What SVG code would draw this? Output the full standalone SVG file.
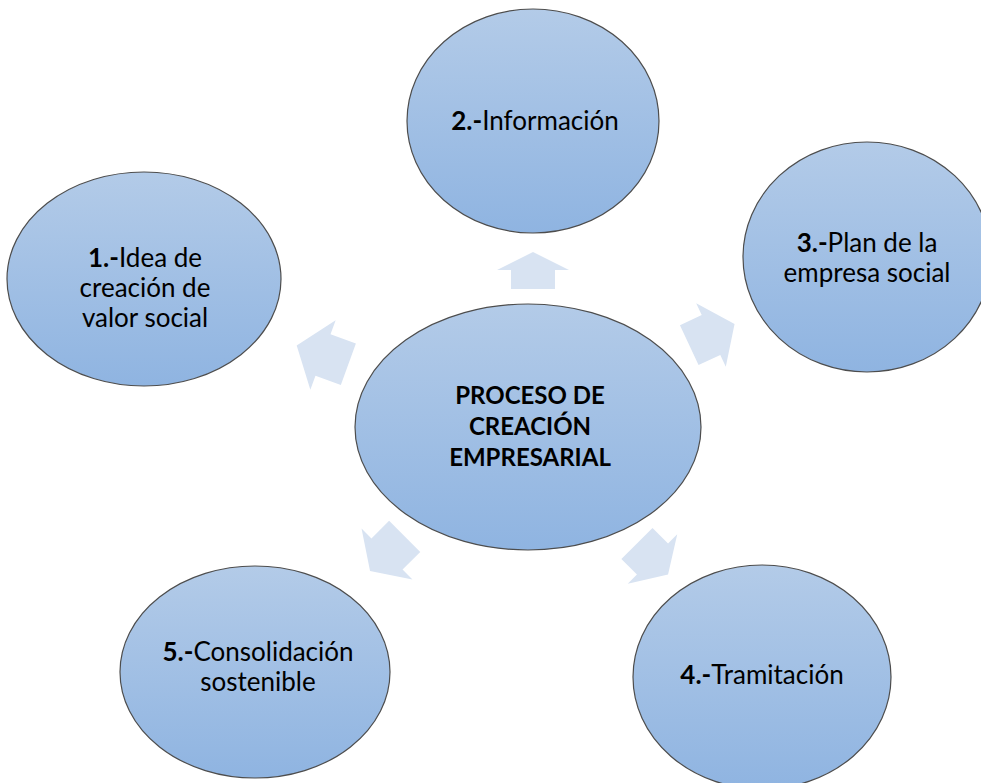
<svg xmlns="http://www.w3.org/2000/svg" width="981" height="783" viewBox="0 0 981 783">
  <defs>
    <linearGradient id="gFill" x1="0" y1="0" x2="0" y2="1">
      <stop offset="0" stop-color="#b3cbe8"/>
      <stop offset="1" stop-color="#8fb4e1"/>
    </linearGradient>
  </defs>
  <style>
    .node { fill: url(#gFill); stroke: #4d4d4d; stroke-width: 1.2; }
    .arrow { fill: #d8e3f2; stroke: none; }
    text { font-family: Lato, "Liberation Sans", sans-serif; font-size: 26px; fill: #000; text-anchor: middle; }
    .b { font-weight: bold; }
    .c { font-weight: bold; font-size: 24px; }
  </style>
  <rect width="981" height="783" fill="#ffffff"/>
  <g id="connectors">
    <path class="arrow" transform="translate(533,270) rotate(-90)" d="M-19,-22 L0,-22 L0,-36 L18,0 L0,36 L0,22 L-19,22 Z"/>
    <path class="arrow" transform="translate(711,335) rotate(-25)" d="M-24,-22 L0,-22 L0,-35 L26,0 L0,35 L0,22 L-24,22 Z"/>
    <path class="arrow" transform="translate(652.5,559) rotate(45)" d="M-22,-22 L0,-22 L0,-35 L22,0 L0,35 L0,22 L-22,22 Z"/>
    <path class="arrow" transform="translate(387,554) rotate(135)" d="M-25,-22 L0,-22 L0,-36 L24,0 L0,36 L0,22 L-25,22 Z"/>
    <path class="arrow" transform="translate(323,355) rotate(-160)" d="M-27,-22 L0,-22 L0,-37 L28,0 L0,37 L0,22 L-27,22 Z"/>
  </g>
  <g id="center">
    <ellipse class="node" cx="528" cy="427" rx="173" ry="123"/>
    <text class="c" x="530" y="404">PROCESO DE</text>
    <text class="c" x="530" y="435">CREACIÓN</text>
    <text class="c" x="530" y="466">EMPRESARIAL</text>
  </g>
  <g id="node1">
    <ellipse class="node" cx="144" cy="279" rx="137" ry="107"/>
    <text x="145" y="267"><tspan class="b">1.-</tspan>Idea de</text>
    <text x="145" y="297">creación de</text>
    <text x="145" y="327">valor social</text>
  </g>
  <g id="node2">
    <ellipse class="node" cx="533" cy="121" rx="126" ry="112"/>
    <text x="535" y="130"><tspan class="b">2.-</tspan>Información</text>
  </g>
  <g id="node3">
    <ellipse class="node" cx="867" cy="257" rx="124" ry="115"/>
    <text x="867" y="252"><tspan class="b">3.-</tspan>Plan de la</text>
    <text x="867" y="282">empresa social</text>
  </g>
  <g id="node4">
    <ellipse class="node" cx="762" cy="677" rx="129" ry="112"/>
    <text x="762" y="684"><tspan class="b">4.-</tspan>Tramitación</text>
  </g>
  <g id="node5">
    <ellipse class="node" cx="255" cy="672" rx="135" ry="106"/>
    <text x="258" y="661"><tspan class="b">5.-</tspan>Consolidación</text>
    <text x="258" y="691">sostenible</text>
  </g>
</svg>
